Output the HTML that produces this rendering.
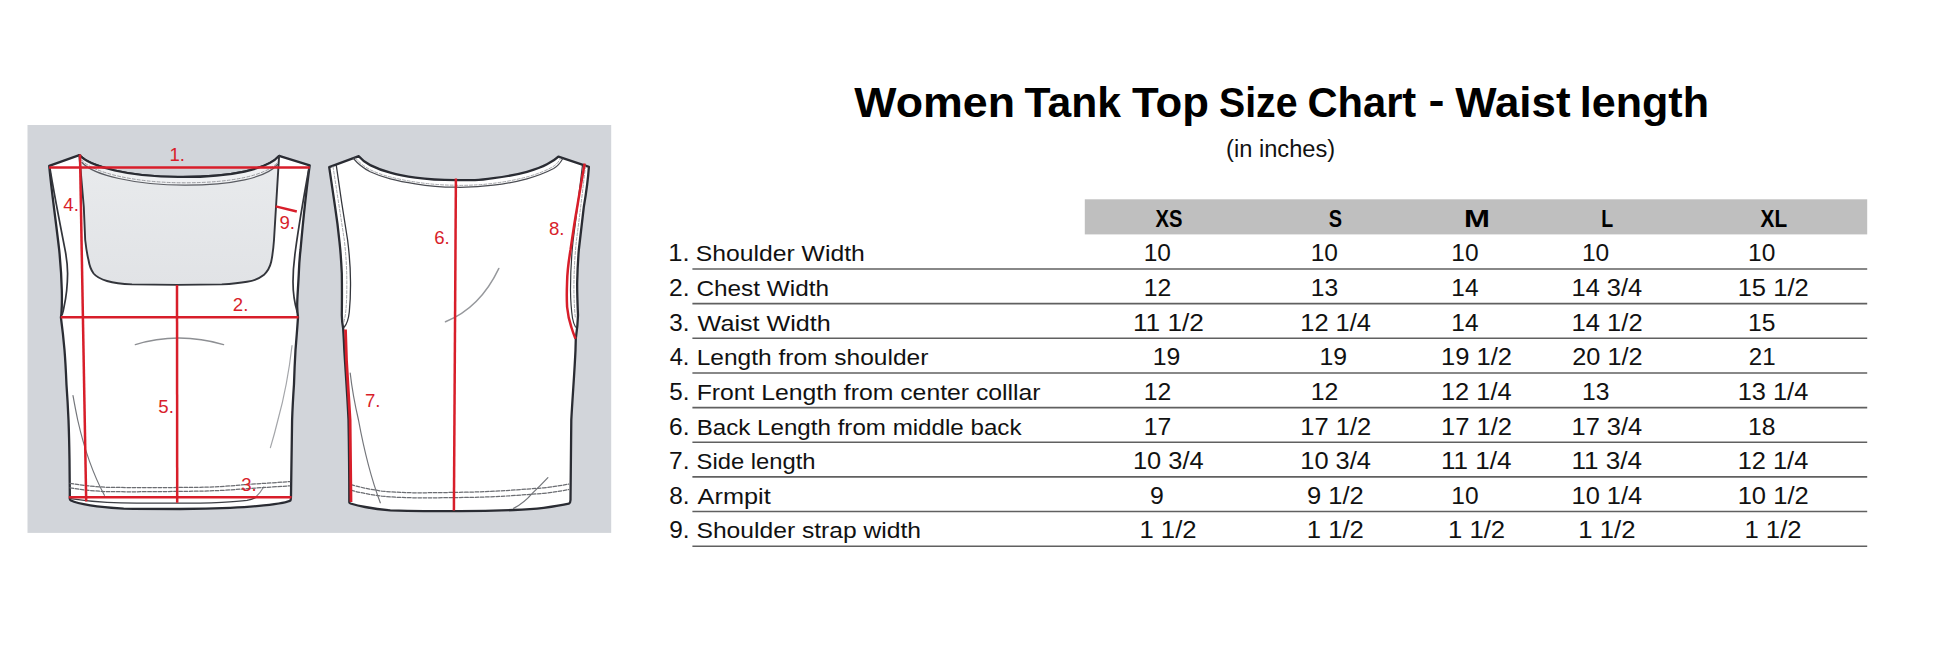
<!DOCTYPE html>
<html><head><meta charset="utf-8"><title>Women Tank Top Size Chart</title>
<style>
html,body{margin:0;padding:0;background:#fff;}
body{width:1946px;height:657px;position:relative;overflow:hidden;font-family:"Liberation Sans",sans-serif;}
.t{position:absolute;left:0;top:0;white-space:pre;transform-origin:0 0;display:block;}
svg{position:absolute;left:0;top:0;}
</style></head><body>
<svg width="640" height="657" viewBox="0 0 640 657">
<defs>
<linearGradient id="ins" x1="0" y1="0" x2="0" y2="1"><stop offset="0" stop-color="#e9ebed"/><stop offset="1" stop-color="#e1e3e6"/></linearGradient>
</defs>
<rect x="27.5" y="125" width="583.7" height="407.9" fill="#d2d5da"/>
<g fill="none" stroke="#2a2c33" stroke-width="2.3" stroke-linejoin="round" stroke-linecap="round">
<!-- FRONT silhouette -->
<path fill="#fff" d="M49.2,165.9 L79.3,155.1 C90,167 130,177 178,177 C232,177.5 268,169 279.1,155.9 L309.7,165.4 C307,185 303,222 300.5,250 C299.3,260 299,268 298.8,273.5 C298,290 297,300 297.2,307 C297.3,311 297.6,314 298,317.3 C297.2,330 296.3,340 295.5,350 C294.8,362 294.3,374 294,384 C293.2,396 292.5,408 292.1,420 C291.8,446 291.3,472 291,496 C291,499 290.8,499.8 290.5,500.3 C288,502.5 276,504 263.7,505.4 C252,506.8 241,507.4 230.2,507.9 C213,508.7 196,509 180,509 C160,509 140,509 123.7,508.7 C112,508 100,507 90.2,505.4 C82,504 74,502 71,500.5 C69.8,499.8 69.6,499 69.8,497.8 C69.8,485 69.7,472 69.5,460 C69.3,446 69,433 68.5,420 C68,408 67.3,396 66.5,385 C66,373 65.4,361 64.5,350 C63.5,338 62.2,327 60.9,317.3 C61.2,316 61.3,315 61.4,313.6 C62,306 62,298 61.8,290.2 C61.5,277 60.5,263 59.2,250 C56,222 52,195 49.2,165.9 Z"/>
<!-- inside back visible through neckline -->
<path fill="url(#ins)" stroke="none" d="M79.3,155.1 C90,167 130,177 178,177 C232,177.5 268,169 279.1,155.9 L274,240 C273.3,250 272.2,257 271.2,261.8 C269.8,268 267,272 263.7,275.1 C259,279 253,280.8 247,281.8 C239,283.3 230,284 221.8,284.4 L177,284.9 L132,284.4 C123,284 114,283 107,281 C101,279.3 96.5,277 93.6,273.5 C91,270 89.3,265 88.5,260 C87,254 86,247 85.2,240 L83.8,207 Z"/>
</g>
<!-- neck binding band front view -->
<path fill="#f0f1f3" stroke="none" d="M79.3,155.1 C90,167 130,177 178,177 C232,177.5 268,169 279.1,155.9 L277.5,164.5 C266,178 232,185.2 185,185.2 C135,185.2 93,175 82,162.5 Z"/>
<path d="M79.3,155.1 C90,167 130,177 178,177 C232,177.5 268,169 279.1,155.9" fill="none" stroke="#2a2c33" stroke-width="2.2" stroke-linecap="round"/>
<g fill="none" stroke-linecap="round" stroke-linejoin="round">
<path d="M82,162.5 C93,175 135,185.2 185,185.2 C232,185.2 266,178 277.5,164.5" stroke="#5a5c62" stroke-width="1.2"/>
<path d="M81.5,160 C92.5,172.6 134.5,182.8 184,182.8 C231,182.8 266,175.8 278,162" stroke="#85878c" stroke-dasharray="3 2" stroke-width="0.8"/>
<!-- front neckline edges -->
<path d="M79.3,155.1 L83.8,207 L85.2,240 C86,247 87,254 88.5,260 C89.3,265 91,270 93.6,273.5 C96.5,277 101,279.3 107,281 C114,283 123,284 132,284.4 L177,284.9 L221.8,284.4 C230,284 239,283.3 247,281.8 C253,280.8 259,279 263.7,275.1 C267,272 269.8,268 271.2,261.8 C272.2,257 273.3,250 274,240 L279.1,155.9" stroke="#33353b" stroke-width="1.9"/>
<!-- armhole inner lines -->
<path d="M49.8,167.5 C53.5,190 60,224 65.1,250 C67,260 67.6,267 67.6,273.5 C67.5,285 66,298 64,307 C63.5,310 63,312 62.2,314.5" stroke="#33353b" stroke-width="1.7"/>
<path d="M309.1,167.5 C305,190 299,224 295.5,250 C293.8,262 293,272 293,281.8 C293,292 294.5,303 297.2,312" stroke="#33353b" stroke-width="1.7"/>
<!-- hem fold -->
<path d="M70.3,498.7 C82,500.5 95,501.8 107,502.3 C130,503.1 152,503.2 173.9,503.2 L200,503.2 C208,503.1 215,502.8 221.8,502.3 C231,501.8 240,501.2 247,500.3 C250,499.8 253,498.8 255,497.8" stroke="#3c3e44" stroke-width="1.3"/>
<!-- creases -->
<path d="M135.4,344.6 C150,340 165,338.1 179,338 C193,338 209,340.3 223.5,344.6" stroke="#8d8f93" stroke-width="1.5"/>
<path d="M73,395.7 C74.5,404 76,412 77.7,420 C84,448 93,474 104.4,495.3" stroke="#74767b" stroke-width="1.2"/>
<path d="M292,345.7 C289,372 284,398 277.9,420 C275.5,430 273,439 270.4,447.6" stroke="#a4a6aa" stroke-width="1.2"/>
<path d="M255,497.8 C258.5,494.5 261.5,491 263.7,487" stroke="#85878c" stroke-width="1.1"/>
<!-- hem stitching -->
<path d="M70,483.3 C83,485.5 95,486.8 107,487.3 C135,487.8 165,487.6 200,487.3 C215,487 232,486 247,484.4 C262,483.5 277,482.6 289.6,481.6" stroke-dasharray="3.6 1.6" stroke="#6b6d72" stroke-width="1.25"/>
<path d="M70,487.8 C83,490 95,491.2 107,491.6 C135,492 165,491.6 200,491.1 C215,490.9 232,490 247,488.6 C262,487.6 277,486.8 289.6,485.8" stroke-dasharray="3.6 1.6" stroke="#6b6d72" stroke-width="1.25"/>
</g>
<!-- BACK silhouette -->
<g fill="none" stroke="#2a2c33" stroke-width="2.3" stroke-linejoin="round" stroke-linecap="round">
<path fill="#fff" d="M329.2,167.1 L358.8,156.2 C362,160 366,163 370.2,165.1 C377,168.5 384,171 390.3,172.6 C398,174.8 407,176.5 415.4,177.7 C428,179.5 442,180.2 455.6,180.2 L475,180.2 C481,180 487,179.2 493.5,178.2 C505,176.8 517,174.5 527,171.8 C535,169.5 542,167 547,164.3 C551.5,162 555,160 558.4,156.7 L588.9,166.8 C588,180 586,194 583.8,207 C582,222 580.3,236 578.8,250 C578,260 577.4,272 577.2,281.8 C577,293 577.6,305 578,315.3 C577.8,323 576.8,332 575.8,338.7 L575.5,350 C574.5,373 572.5,397 571.3,420 C571,447 570.8,475 570.5,500 C570.5,502.5 569.8,503.2 568.8,503.7 C561,505.5 552,506.8 543.7,507.9 C534,509 524,509.6 513.6,510 C496,510.8 478,511.2 460,511.2 L423.8,511.2 C412,511.2 401,510.9 390.3,510.4 C381,509.6 373,508.5 365.2,507 C360,506 354,504.5 350.5,503.5 C349.3,503.1 349.2,502.5 349.3,502 C349.3,475 349,447 348.5,420 C347.5,397 345.7,373 344.3,350 C344,343 343.6,335 343.1,327.9 C342.3,324 341.9,320 341.8,315.3 C342,301 342,287 341.8,273.5 C341.3,262 340.5,251 339.5,242 C338.3,230 336.8,218 335.1,207 C333.3,194 331,180 329.2,167.1 Z"/>
</g>
<!-- back neck binding band -->
<g fill="none" stroke-linecap="round" stroke-linejoin="round">
<path d="M353.5,158.5 C358,164 364,168.5 370.2,171.8 C377,175 384,177.3 390.3,178.8 C398,180.8 407,182.5 415.4,183.8 C428,186 442,187.2 455.6,187.2 L460,187.4 C472,187.3 483,186.6 493.5,185.2 C505,183.8 517,181.5 527,178.8 C537,176 546,172.5 553.7,168.5 C557.5,166.3 560,163.5 562.5,159" stroke="#4a4c52" stroke-width="1.2"/>
<path d="M355.5,158 C359.5,162.8 364.5,166.8 370.5,169.9 C377,173 384,175.5 390.5,177 C398,179 407,180.8 415.5,182 C428,184 442,185.2 455.6,185.2 L460,185.4 C472,185.3 483,184.7 493.5,183.3 C505,181.9 517,179.6 527,176.9 C537,174.2 545.5,170.8 552.7,166.8 C556,164.9 558.5,162 560.5,158.5" stroke="#909297" stroke-dasharray="3 1.8" stroke-width="0.8"/>
<!-- armhole bindings -->
<path d="M336.3,165.5 C339,185 343.5,215 347.6,240 C349.5,255 350.5,268 350.5,281.8 C350.6,293 350.2,303 349.3,312 C348.5,319 346.5,324.5 344.3,327" stroke="#33353b" stroke-width="1.3"/>
<path d="M333,166.5 C336,186 340.5,215 344.3,240 C346,255 346.8,268 346.8,281.8 C346.9,293 346.6,303 345.8,311 C345.3,316 344.5,320 343.6,323" stroke="#909297" stroke-dasharray="3 1.8" stroke-width="0.8"/>
<path d="M582.5,165 C580,186 576.5,215 573.2,240 C571.5,255 570.5,272 570.5,290 C570.6,300 571.3,310 572.5,318 C573.2,322 574.2,325 575.5,327" stroke="#33353b" stroke-width="1.2"/>
<path d="M585.5,166 C583.2,186 579.8,215 576.5,240 C574.8,255 573.9,272 573.9,290 C574,300 574.5,310 575.3,317 " stroke="#909297" stroke-dasharray="3 1.8" stroke-width="0.8"/>
<!-- creases -->
<path d="M445.5,321.7 Q480,308 498.8,268.5" stroke="#96989c" stroke-width="1.6"/>
<path d="M350.2,373 C352,389 355,405 358.5,420 C364,450 371,478 380.3,502.8" stroke="#74767b" stroke-width="1.2"/>
<path d="M513.6,508.4 C521,504.5 527,499.5 532,493.6 C538,488 543,483 547.9,477.7" stroke="#74767b" stroke-width="1.2"/>
<!-- hem stitching -->
<path d="M351,484.7 C361,487.5 371,489.5 382,491.1 C393,492.2 404,492.7 415.4,492.8 C435,492.8 455,492.4 475,492 C487,491.6 499,491 510.2,490.3 C522,489.5 533,488.6 543.7,487.8 C553,486.8 561,485.5 568.8,484.1" stroke-dasharray="3.6 1.6" stroke="#6b6d72" stroke-width="1.25"/>
<path d="M351,490.2 C361,493 371,494.8 382,496.2 C393,497.2 404,497.7 415.4,497.8 C435,497.9 455,497.6 475,497.3 C487,497 499,496.4 510.2,495.8 C522,495 533,494.2 543.7,493.3 C553,492.3 561,491 568.8,489.5" stroke-dasharray="3.6 1.6" stroke="#6b6d72" stroke-width="1.25"/>
</g>
<!-- RED measurement lines -->
<g fill="none" stroke="#d81e2a" stroke-width="2.5" stroke-linecap="butt">
<path d="M49,167.6 L309.9,167.6"/>
<path d="M80,154.6 L86.2,501.5"/>
<path d="M60.7,317.3 L298.5,317.3"/>
<path d="M177,284.9 L177.2,502.8"/>
<path d="M68.8,497.2 L291.5,497.2"/>
<path d="M275.7,206.4 L296.8,211.5"/>
<path d="M455.9,178.5 L453.9,510.4"/>
<path d="M345.5,329.5 L346.5,360 L350.1,420 L351,502" stroke-width="2.8"/>
<path d="M584.7,163.4 C582,178 579.5,193 577.2,207 C574.5,222 572.5,236 570.5,250 C568.5,262 567.3,272 567.1,281.8 C566.7,291 566.7,300 567.1,307 C567.8,314 569.2,321 571.3,327 C572.5,331 574,335 575.5,338.7"/>
</g>
<g font-family="Liberation Sans, sans-serif" font-size="18.6" fill="#d81e2a">
<text x="169.5" y="161.3">1.</text>
<text x="232.8" y="311.2">2.</text>
<text x="241.2" y="490.7">3.</text>
<text x="63.3" y="210.6">4.</text>
<text x="158.3" y="413.3">5.</text>
<text x="434.2" y="243.8">6.</text>
<text x="365" y="407.3">7.</text>
<text x="549" y="234.6">8.</text>
<text x="279.5" y="228.5">9.</text>
</g>
</svg>

<svg width="1946" height="657" viewBox="0 0 1946 657"><rect x="1084.8" y="199.3" width="782.4" height="35.1" fill="#bfbfbf"/><g stroke="#606060" stroke-width="1.6">
<line x1="692.4" x2="1867.2" y1="268.95" y2="268.95"/>
<line x1="692.4" x2="1867.2" y1="303.61" y2="303.61"/>
<line x1="692.4" x2="1867.2" y1="338.27" y2="338.27"/>
<line x1="692.4" x2="1867.2" y1="372.93" y2="372.93"/>
<line x1="692.4" x2="1867.2" y1="407.59" y2="407.59"/>
<line x1="692.4" x2="1867.2" y1="442.25" y2="442.25"/>
<line x1="692.4" x2="1867.2" y1="476.91" y2="476.91"/>
<line x1="692.4" x2="1867.2" y1="511.57" y2="511.57"/>
<line x1="692.4" x2="1867.2" y1="546.23" y2="546.23"/>
</g></svg>
<span class="t" style="font-size:42.5px;line-height:42.5px;font-weight:bold;color:#000;transform:translate(854.30px,82.00px) scaleX(1.0525)">Women</span>
<span class="t" style="font-size:42.5px;line-height:42.5px;font-weight:bold;color:#000;transform:translate(1024.62px,82.00px) scaleX(1.0026)">Tank</span>
<span class="t" style="font-size:42.5px;line-height:42.5px;font-weight:bold;color:#000;transform:translate(1132.11px,82.00px) scaleX(1.0286)">Top</span>
<span class="t" style="font-size:42.5px;line-height:42.5px;font-weight:bold;color:#000;transform:translate(1218.96px,82.00px) scaleX(0.9236)">Size</span>
<span class="t" style="font-size:42.5px;line-height:42.5px;font-weight:bold;color:#000;transform:translate(1307.41px,82.00px) scaleX(0.9807)">Chart</span>
<span class="t" style="font-size:42.5px;line-height:42.5px;font-weight:bold;color:#000;transform:translate(1428.46px,79.80px) scaleX(1.1310)">-</span>
<span class="t" style="font-size:42.5px;line-height:42.5px;font-weight:bold;color:#000;transform:translate(1455.20px,82.00px) scaleX(1.0316)">Waist</span>
<span class="t" style="font-size:42.5px;line-height:42.5px;font-weight:bold;color:#000;transform:translate(1579.78px,82.00px) scaleX(1.0139)">length</span>
<span class="t" style="font-size:23px;line-height:23px;color:#111;transform:translate(1226.09px,137.80px) scaleX(1.0276)">(in inches)</span>
<span class="t" style="font-size:23px;line-height:23px;color:#111;transform:translate(668.25px,242.20px) scaleX(1.1122)">1.</span>
<span class="t" style="font-size:22px;line-height:22px;color:#111;transform:translate(695.78px,243.20px) scaleX(1.1234)">Shoulder Width</span>
<span class="t" style="font-size:23px;line-height:23px;color:#111;transform:translate(669.00px,276.86px) scaleX(1.0687)">2.</span>
<span class="t" style="font-size:22px;line-height:22px;color:#111;transform:translate(696.49px,277.86px) scaleX(1.1055)">Chest Width</span>
<span class="t" style="font-size:23px;line-height:23px;color:#111;transform:translate(669.28px,311.52px) scaleX(1.0523)">3.</span>
<span class="t" style="font-size:22px;line-height:22px;color:#111;transform:translate(697.60px,312.52px) scaleX(1.1431)">Waist Width</span>
<span class="t" style="font-size:23px;line-height:23px;color:#111;transform:translate(669.69px,346.18px) scaleX(1.0286)">4.</span>
<span class="t" style="font-size:22px;line-height:22px;color:#111;transform:translate(696.65px,347.18px) scaleX(1.1143)">Length from shoulder</span>
<span class="t" style="font-size:23px;line-height:23px;color:#111;transform:translate(669.28px,380.84px) scaleX(1.0523)">5.</span>
<span class="t" style="font-size:22px;line-height:22px;color:#111;transform:translate(696.63px,381.84px) scaleX(1.1251)">Front Length from center colllar</span>
<span class="t" style="font-size:23px;line-height:23px;color:#111;transform:translate(669.00px,415.50px) scaleX(1.0687)">6.</span>
<span class="t" style="font-size:22px;line-height:22px;color:#111;transform:translate(696.68px,416.50px) scaleX(1.0976)">Back Length from middle back</span>
<span class="t" style="font-size:23px;line-height:23px;color:#111;transform:translate(669.00px,450.16px) scaleX(1.0687)">7.</span>
<span class="t" style="font-size:22px;line-height:22px;color:#111;transform:translate(696.52px,451.16px) scaleX(1.0812)">Side length</span>
<span class="t" style="font-size:23px;line-height:23px;color:#111;transform:translate(669.14px,484.82px) scaleX(1.0605)">8.</span>
<span class="t" style="font-size:22px;line-height:22px;color:#111;transform:translate(697.60px,485.82px) scaleX(1.1496)">Armpit</span>
<span class="t" style="font-size:23px;line-height:23px;color:#111;transform:translate(669.14px,519.48px) scaleX(1.0605)">9.</span>
<span class="t" style="font-size:22px;line-height:22px;color:#111;transform:translate(696.48px,520.48px) scaleX(1.1198)">Shoulder strap width</span>
<span class="t" style="font-size:23px;line-height:23px;color:#111;transform:translate(1143.74px,242.20px) scaleX(1.0652)">10</span>
<span class="t" style="font-size:23px;line-height:23px;color:#111;transform:translate(1143.72px,276.86px) scaleX(1.0769)">12</span>
<span class="t" style="font-size:23px;line-height:23px;color:#111;transform:translate(1132.90px,311.52px) scaleX(1.1412)">11 1/2</span>
<span class="t" style="font-size:23px;line-height:23px;color:#111;transform:translate(1152.72px,346.18px) scaleX(1.0769)">19</span>
<span class="t" style="font-size:23px;line-height:23px;color:#111;transform:translate(1143.72px,380.84px) scaleX(1.0769)">12</span>
<span class="t" style="font-size:23px;line-height:23px;color:#111;transform:translate(1143.72px,415.50px) scaleX(1.0769)">17</span>
<span class="t" style="font-size:23px;line-height:23px;color:#111;transform:translate(1132.97px,450.16px) scaleX(1.1041)">10 3/4</span>
<span class="t" style="font-size:23px;line-height:23px;color:#111;transform:translate(1149.92px,484.82px) scaleX(1.0791)">9</span>
<span class="t" style="font-size:23px;line-height:23px;color:#111;transform:translate(1139.45px,519.48px) scaleX(1.1163)">1 1/2</span>
<span class="t" style="font-size:23px;line-height:23px;color:#111;transform:translate(1310.74px,242.20px) scaleX(1.0652)">10</span>
<span class="t" style="font-size:23px;line-height:23px;color:#111;transform:translate(1310.73px,276.86px) scaleX(1.0710)">13</span>
<span class="t" style="font-size:23px;line-height:23px;color:#111;transform:translate(1300.27px,311.52px) scaleX(1.1041)">12 1/4</span>
<span class="t" style="font-size:23px;line-height:23px;color:#111;transform:translate(1319.42px,346.18px) scaleX(1.0769)">19</span>
<span class="t" style="font-size:23px;line-height:23px;color:#111;transform:translate(1310.72px,380.84px) scaleX(1.0769)">12</span>
<span class="t" style="font-size:23px;line-height:23px;color:#111;transform:translate(1300.26px,415.50px) scaleX(1.1108)">17 1/2</span>
<span class="t" style="font-size:23px;line-height:23px;color:#111;transform:translate(1300.27px,450.16px) scaleX(1.1041)">10 3/4</span>
<span class="t" style="font-size:23px;line-height:23px;color:#111;transform:translate(1306.89px,484.82px) scaleX(1.1115)">9 1/2</span>
<span class="t" style="font-size:23px;line-height:23px;color:#111;transform:translate(1306.75px,519.48px) scaleX(1.1163)">1 1/2</span>
<span class="t" style="font-size:23px;line-height:23px;color:#111;transform:translate(1451.34px,242.20px) scaleX(1.0652)">10</span>
<span class="t" style="font-size:23px;line-height:23px;color:#111;transform:translate(1451.35px,276.86px) scaleX(1.0595)">14</span>
<span class="t" style="font-size:23px;line-height:23px;color:#111;transform:translate(1451.35px,311.52px) scaleX(1.0595)">14</span>
<span class="t" style="font-size:23px;line-height:23px;color:#111;transform:translate(1440.96px,346.18px) scaleX(1.1108)">19 1/2</span>
<span class="t" style="font-size:23px;line-height:23px;color:#111;transform:translate(1440.97px,380.84px) scaleX(1.1041)">12 1/4</span>
<span class="t" style="font-size:23px;line-height:23px;color:#111;transform:translate(1440.96px,415.50px) scaleX(1.1108)">17 1/2</span>
<span class="t" style="font-size:23px;line-height:23px;color:#111;transform:translate(1440.92px,450.16px) scaleX(1.1340)">11 1/4</span>
<span class="t" style="font-size:23px;line-height:23px;color:#111;transform:translate(1451.34px,484.82px) scaleX(1.0652)">10</span>
<span class="t" style="font-size:23px;line-height:23px;color:#111;transform:translate(1448.05px,519.48px) scaleX(1.1163)">1 1/2</span>
<span class="t" style="font-size:23px;line-height:23px;color:#111;transform:translate(1581.94px,242.20px) scaleX(1.0652)">10</span>
<span class="t" style="font-size:23px;line-height:23px;color:#111;transform:translate(1571.57px,276.86px) scaleX(1.1041)">14 3/4</span>
<span class="t" style="font-size:23px;line-height:23px;color:#111;transform:translate(1571.56px,311.52px) scaleX(1.1108)">14 1/2</span>
<span class="t" style="font-size:23px;line-height:23px;color:#111;transform:translate(1572.26px,346.18px) scaleX(1.0996)">20 1/2</span>
<span class="t" style="font-size:23px;line-height:23px;color:#111;transform:translate(1581.93px,380.84px) scaleX(1.0710)">13</span>
<span class="t" style="font-size:23px;line-height:23px;color:#111;transform:translate(1571.57px,415.50px) scaleX(1.1041)">17 3/4</span>
<span class="t" style="font-size:23px;line-height:23px;color:#111;transform:translate(1571.52px,450.16px) scaleX(1.1340)">11 3/4</span>
<span class="t" style="font-size:23px;line-height:23px;color:#111;transform:translate(1571.57px,484.82px) scaleX(1.1041)">10 1/4</span>
<span class="t" style="font-size:23px;line-height:23px;color:#111;transform:translate(1578.35px,519.48px) scaleX(1.1163)">1 1/2</span>
<span class="t" style="font-size:23px;line-height:23px;color:#111;transform:translate(1748.04px,242.20px) scaleX(1.0652)">10</span>
<span class="t" style="font-size:23px;line-height:23px;color:#111;transform:translate(1737.66px,276.86px) scaleX(1.1108)">15 1/2</span>
<span class="t" style="font-size:23px;line-height:23px;color:#111;transform:translate(1748.03px,311.52px) scaleX(1.0710)">15</span>
<span class="t" style="font-size:23px;line-height:23px;color:#111;transform:translate(1748.72px,346.18px) scaleX(1.0481)">21</span>
<span class="t" style="font-size:23px;line-height:23px;color:#111;transform:translate(1737.67px,380.84px) scaleX(1.1041)">13 1/4</span>
<span class="t" style="font-size:23px;line-height:23px;color:#111;transform:translate(1748.03px,415.50px) scaleX(1.0710)">18</span>
<span class="t" style="font-size:23px;line-height:23px;color:#111;transform:translate(1737.67px,450.16px) scaleX(1.1041)">12 1/4</span>
<span class="t" style="font-size:23px;line-height:23px;color:#111;transform:translate(1737.66px,484.82px) scaleX(1.1108)">10 1/2</span>
<span class="t" style="font-size:23px;line-height:23px;color:#111;transform:translate(1744.45px,519.48px) scaleX(1.1163)">1 1/2</span>
<span class="t" style="font-size:23px;line-height:23px;font-weight:bold;color:#000;transform:translate(1155.59px,208.00px) scaleX(0.8773)">XS</span>
<span class="t" style="font-size:23px;line-height:23px;font-weight:bold;color:#000;transform:translate(1328.86px,208.00px) scaleX(0.8649)">S</span>
<span class="t" style="font-size:23px;line-height:23px;font-weight:bold;color:#000;transform:translate(1463.97px,208.00px) scaleX(1.3519)">M</span>
<span class="t" style="font-size:23px;line-height:23px;font-weight:bold;color:#000;transform:translate(1601.32px,208.00px) scaleX(0.8505)">L</span>
<span class="t" style="font-size:23px;line-height:23px;font-weight:bold;color:#000;transform:translate(1760.59px,208.00px) scaleX(0.9013)">XL</span>
</body></html>
